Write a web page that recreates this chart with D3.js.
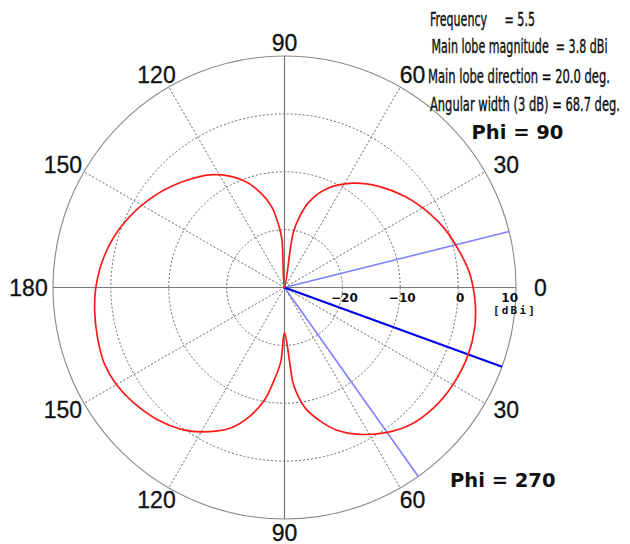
<!DOCTYPE html>
<html>
<head>
<meta charset="utf-8">
<script src="https://cdn.jsdelivr.net/npm/d3@7/dist/d3.min.js"></script>
<style>
  html, body { margin: 0; padding: 0; background: #fff; }
  svg { display: block; }
</style>
</head>
<body>
<svg id="chart" width="630" height="544"></svg>
<script>
// Elevation pattern: polar angle in degrees (counter-clockwise from the 0 mark;
// upper half is the Phi = 90 cut, lower half the Phi = 270 cut) and gain in dBi.
const patternAngle = [0, 5, 12, 20, 27, 37, 47, 57, 67, 74, 78, 81, 90, 93, 95, 99, 104, 111, 122, 135, 148, 160, 170,
  180, 187, 195, 203, 210, 217, 226, 234, 240, 249, 255, 260, 263, 267, 270, 274, 275, 277, 280, 285, 290, 296, 305,
  312, 321, 330, 340, 348, 355];
const patternGain = [2.6, 2.0, 0.8, -0.5, -1.85, -3.9, -6.1, -8.5, -11.5, -14.6, -17.5, -20.5, -30, -21.8, -19.5, -15.9,
  -13.2, -10.2, -7.0, -4.4, -1.9, 0.2, 1.6, 2.6, 3.05, 3.45, 3.8, 3.55, 2.85, 1.7, 0.3, -1.2, -4.0, -7.0, -10.3, -13.3,
  -17.0, -22.2, -17.0, -13.6, -11.2, -8.7, -6.1, -3.8, -1.8, 0.6, 2.1, 3.1, 3.6, 3.8, 3.6, 3.1];

// Main lobe direction and the two -3 dB edges (degrees, same convention)
const mainLobeAngle = [-20.0];
const halfPowerAngles = [14.0, -54.7];

// Angular ticks and their labels (elevation in each cut)
const angleTicks = [0, 30, 60, 90, 120, 150, 180, 210, 240, 270, 300, 330];
const angleTickLabels = ["0", "30", "60", "90", "120", "150", "180", "150", "120", "90", "60", "30"];

// Radial (gain) ticks
const radialTicks = [-20, -10, 0, 10];
const radialTickLabels = ["\u221220", "\u221210", "0", "10"];
const radialUnit = "[dBi]";

// Summary text
const infoLines = [
  "Frequency     = 5.5",
  "Main lobe magnitude  = 3.8 dBi",
  "Main lobe direction = 20.0 deg.",
  "Angular width (3 dB) = 68.7 deg."
];
const cutLabels = ["Phi = 90", "Phi = 270"];

// ---- layout ----
const cx = 284.5, cy = 287.5, R = 231.5;
const svg = d3.select("#chart");
const g = svg.append("g").attr("transform", `translate(${cx},${cy})`);

const r = d3.scaleLinear().domain([-30, 10]).range([0, R]).clamp(true);
const rad = d => d * Math.PI / 180;
const px = (a, rr) => rr * Math.cos(rad(a));
const py = (a, rr) => -rr * Math.sin(rad(a));

// dotted gain circles
g.selectAll("circle.grid")
  .data(radialTicks.filter(t => t < 10))
  .join("circle")
  .attr("class", "grid")
  .attr("r", d => r(d))
  .attr("fill", "none")
  .attr("stroke", "#666")
  .attr("stroke-width", 1)
  .attr("stroke-dasharray", "2,2");

// dotted spokes (not on the axes)
g.selectAll("line.spoke")
  .data(angleTicks.filter(a => a % 90 !== 0))
  .join("line")
  .attr("class", "spoke")
  .attr("x1", 0).attr("y1", 0)
  .attr("x2", a => px(a, R)).attr("y2", a => py(a, R))
  .attr("stroke", "#666")
  .attr("stroke-width", 1)
  .attr("stroke-dasharray", "2,2");

// solid axes
g.selectAll("line.axis")
  .data([0, 90])
  .join("line")
  .attr("class", "axis")
  .attr("x1", a => px(a + 180, R)).attr("y1", a => py(a + 180, R))
  .attr("x2", a => px(a, R)).attr("y2", a => py(a, R))
  .attr("stroke", "#777")
  .attr("stroke-width", 1.2);

// outer circle
g.append("circle")
  .attr("r", r(10))
  .attr("fill", "none")
  .attr("stroke", "#888")
  .attr("stroke-width", 1.1);

// half-power direction lines
g.selectAll("line.hp")
  .data(halfPowerAngles)
  .join("line")
  .attr("class", "hp")
  .attr("x1", 0).attr("y1", 0)
  .attr("x2", a => px(a, R)).attr("y2", a => py(a, R))
  .attr("stroke", "#8080ff")
  .attr("stroke-width", 1.6);

// main lobe direction line
g.selectAll("line.main")
  .data(mainLobeAngle)
  .join("line")
  .attr("class", "main")
  .attr("x1", 0).attr("y1", 0)
  .attr("x2", a => px(a, R)).attr("y2", a => py(a, R))
  .attr("stroke", "#0000ee")
  .attr("stroke-width", 2.2);

// pattern trace
const pts = patternAngle.map((a, i) => ({ a, v: patternGain[i] }));
const radial = d3.lineRadial()
  .angle(d => rad(90 - d.a))
  .radius(d => r(d.v))
  .curve(d3.curveCatmullRomClosed.alpha(0.5));
g.append("path")
  .datum(pts)
  .attr("d", radial)
  .attr("fill", "none")
  .attr("stroke", "#ff1a1a")
  .attr("stroke-width", 1.7)
  .attr("stroke-linejoin", "round");

// angular tick labels on an ellipse around the rim
const lrx = R + 24.5, lry = R + 13.5;
g.selectAll("text.ang")
  .data(angleTicks)
  .join("text")
  .attr("class", "ang")
  .attr("x", a => lrx * Math.cos(rad(a)))
  .attr("y", a => -lry * Math.sin(rad(a)))
  .attr("text-anchor", "middle")
  .attr("dominant-baseline", "central")
  .attr("font-family", "'Liberation Sans', Arial, sans-serif")
  .attr("font-size", 23)
  .attr("fill", "#111")
  .attr("stroke", "#111")
  .attr("stroke-width", 0.3)
  .text((a, i) => angleTickLabels[i]);

// radial tick labels along the 0 axis
g.selectAll("text.rt")
  .data(radialTicks)
  .join("text")
  .attr("class", "rt")
  .attr("x", d => r(d) + 2)
  .attr("y", 14.5)
  .attr("text-anchor", d => d === 10 ? "end" : "middle")
  .attr("font-family", "'DejaVu Sans', sans-serif")
  .attr("font-weight", "bold")
  .attr("font-size", 12)
  .attr("fill", "#111")
  .text((d, i) => radialTickLabels[i]);

g.append("text")
  .attr("x", r(10) - 1)
  .attr("y", 26.5)
  .attr("text-anchor", "middle")
  .attr("font-family", "'DejaVu Sans Mono', monospace")
  .attr("font-weight", "bold")
  .attr("font-size", 11)
  .attr("letter-spacing", 2.2)
  .attr("fill", "#111")
  .text(radialUnit);

// summary block: condensed horizontally to the set widths
const infoX = [430, 431.5, 428, 430];
const infoBase = [26, 53, 83, 111];
const infoW = [105, 176, 182, 190];
svg.selectAll("text.info")
  .data(infoLines)
  .join("text")
  .attr("class", "info")
  .attr("x", 0)
  .attr("y", 0)
  .style("white-space", "pre")
  .attr("font-family", "'DejaVu Sans Condensed', 'Liberation Sans Narrow', sans-serif")
  .attr("font-size", 20)
  .attr("fill", "#111")
  .attr("stroke", "#111")
  .attr("stroke-width", 0.4)
  .text(d => d)
  .attr("transform", function (d, i) {
    const w = this.getComputedTextLength() || infoW[i];
    return `translate(${infoX[i]},${infoBase[i]}) scale(${infoW[i] / w},1)`;
  });

// cut labels
const cutX = [471.5, 450];
const cutY = [138.5, 486.5];
svg.selectAll("text.cut")
  .data(cutLabels)
  .join("text")
  .attr("class", "cut")
  .attr("x", (d, i) => cutX[i])
  .attr("y", (d, i) => cutY[i])
  .style("white-space", "pre")
  .attr("font-family", "'DejaVu Sans', sans-serif")
  .attr("font-weight", "bold")
  .attr("font-size", 19.5)
  .attr("fill", "#111")
  .text(d => d);
</script>
</body>
</html>
